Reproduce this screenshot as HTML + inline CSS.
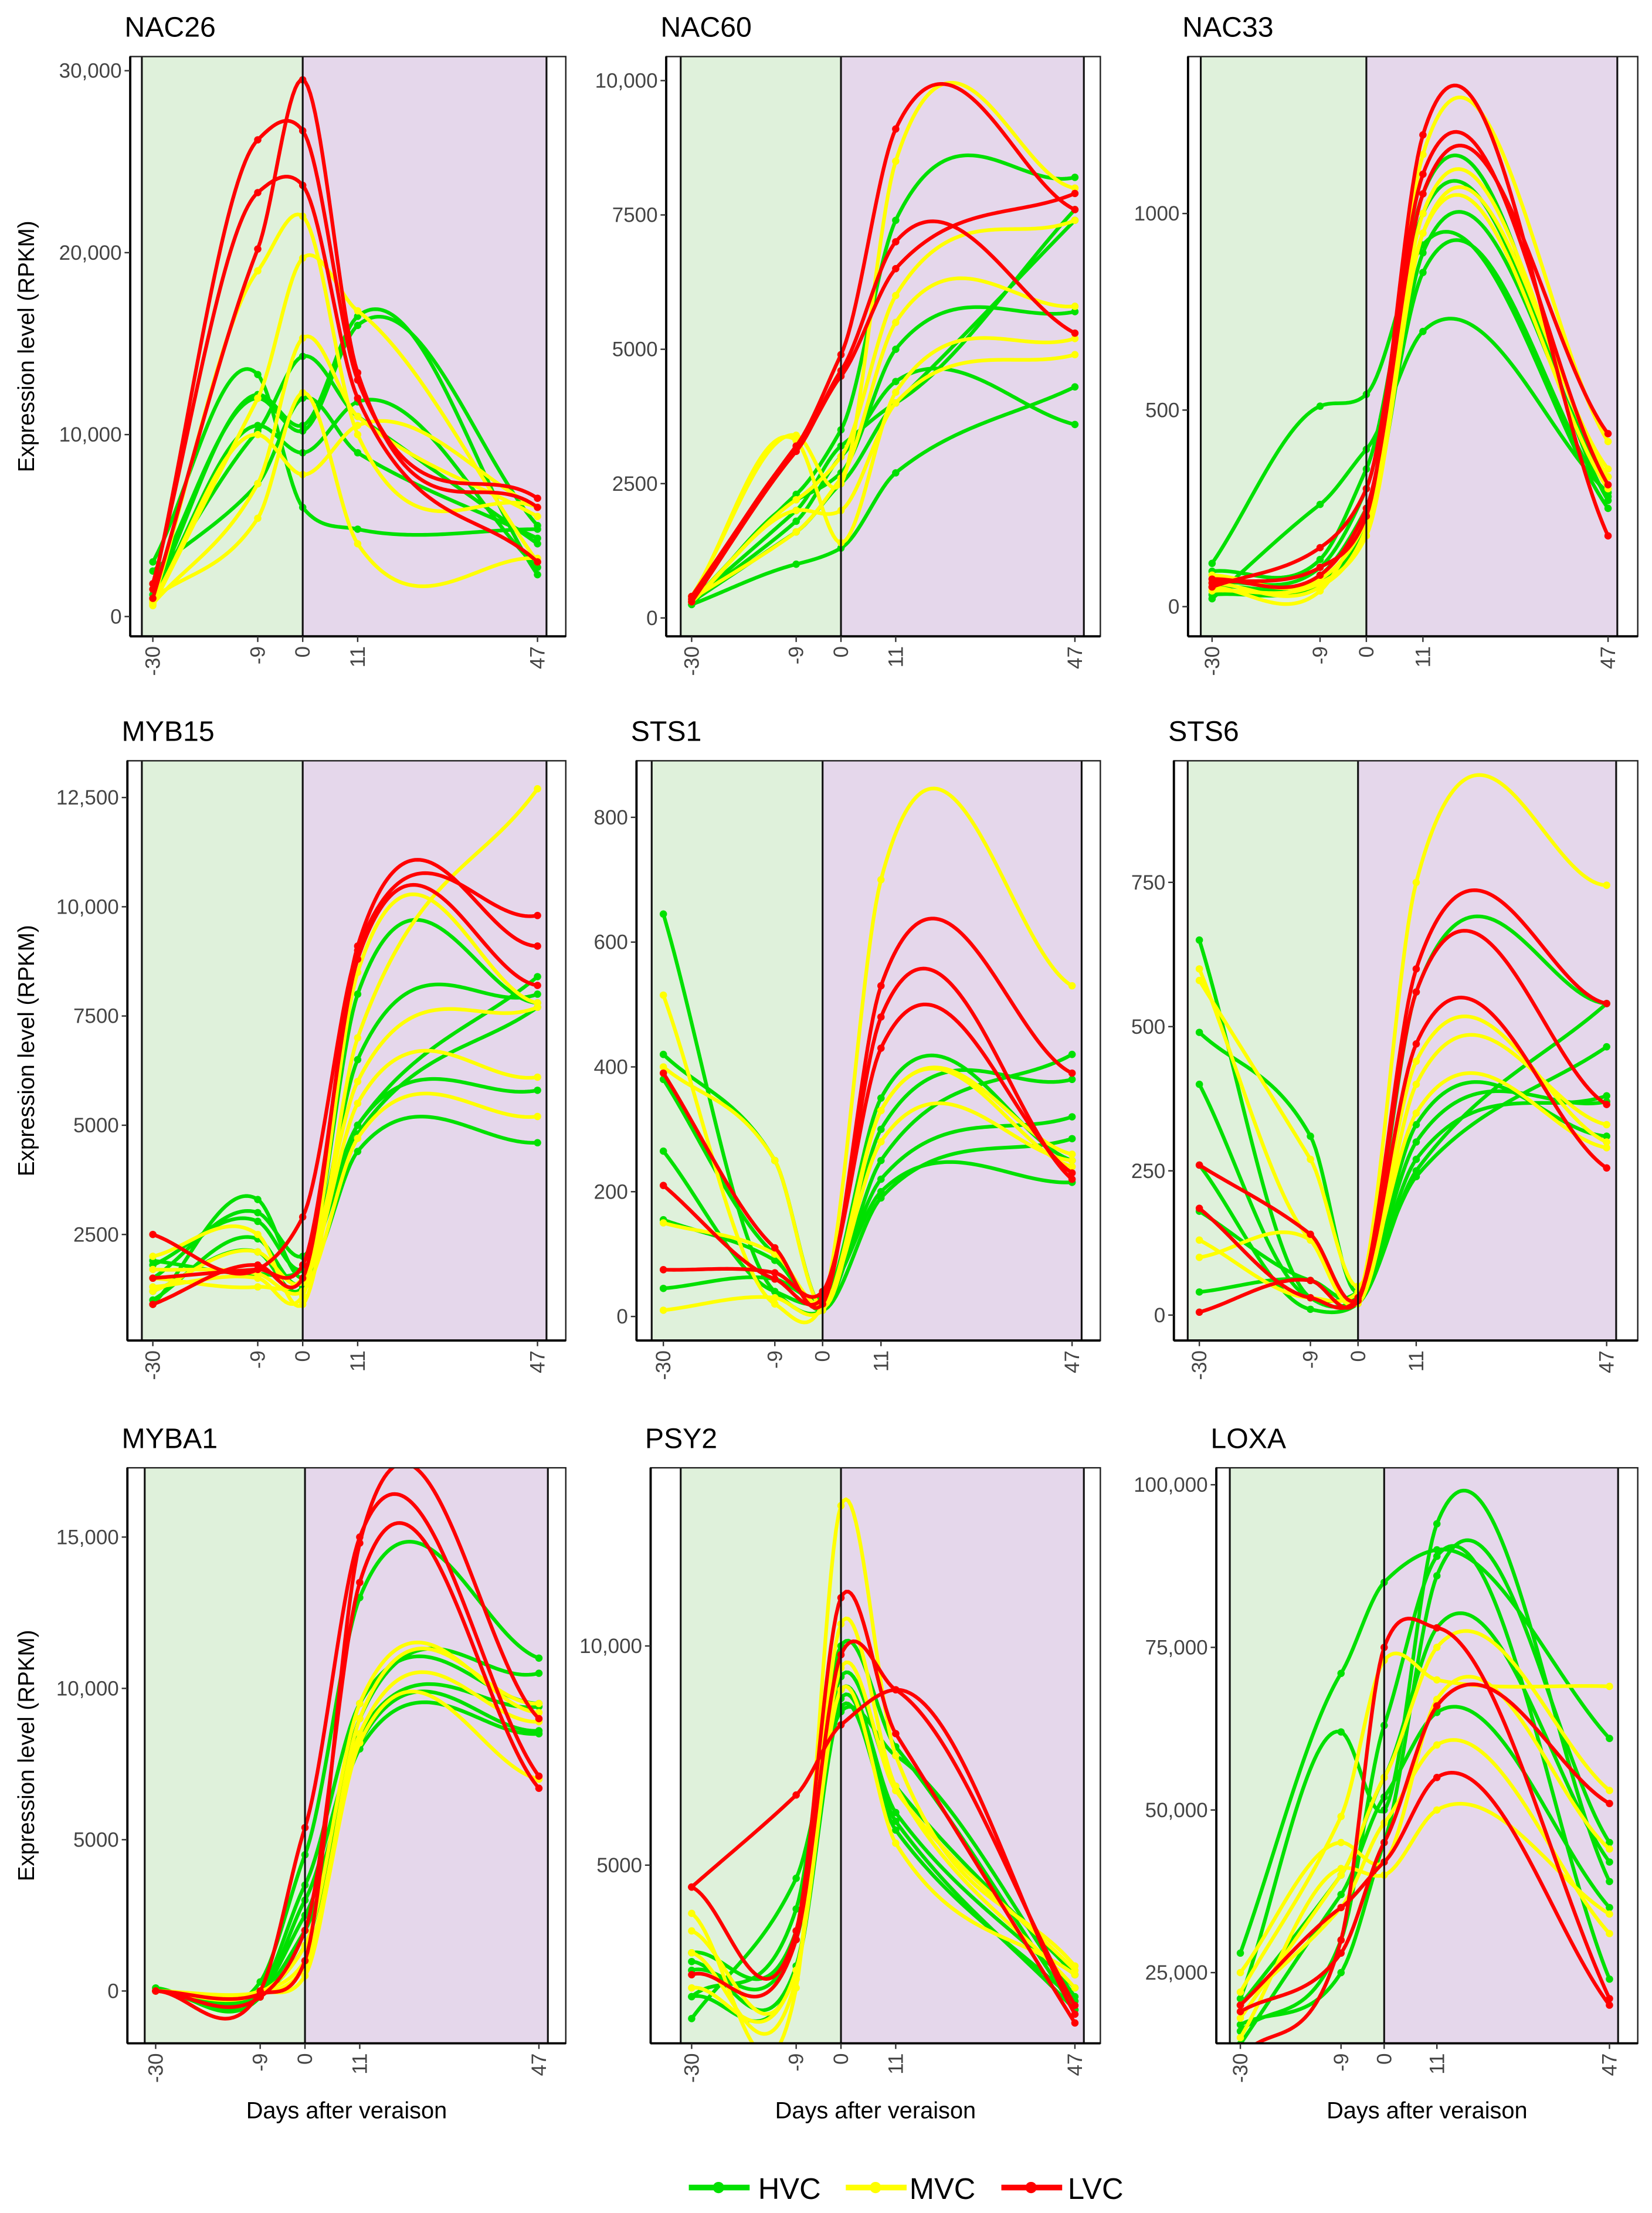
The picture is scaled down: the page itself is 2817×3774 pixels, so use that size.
<!DOCTYPE html>
<html><head><meta charset="utf-8"><style>
html,body{margin:0;padding:0;background:#fff;}
svg{display:block;font-family:"Liberation Sans",sans-serif;}
</style></head><body>
<svg id="fig" width="2817" height="3774" viewBox="0 0 1168 1565" xmlns="http://www.w3.org/2000/svg">
<rect x="0" y="0" width="1168" height="1565" fill="#fff"/>
<g id="panels"></g>
<g>
 <g><line x1="487" y1="1547" x2="530" y2="1547" stroke="#00e000" stroke-width="4"/><circle cx="508" cy="1547" r="4" fill="#00e000"/><text x="536" y="1555" font-size="21">HVC</text></g>
 <g><line x1="598" y1="1547" x2="641" y2="1547" stroke="#ffff00" stroke-width="4"/><circle cx="619" cy="1547" r="4" fill="#ffff00"/><text x="643" y="1555" font-size="21">MVC</text></g>
 <g><line x1="708" y1="1547" x2="751" y2="1547" stroke="#ff0000" stroke-width="4"/><circle cx="729" cy="1547" r="4" fill="#ff0000"/><text x="755" y="1555" font-size="21">LVC</text></g>
</g>
</svg>
<script>
const days = [-30, -9, 0, 11, 47];
const xTickLabels = ["-30", "-9", "0", "11", "47"];

// NAC26
const nac26Hvc = [[3000,13300,6000,4800,4800],[1200,12200,10500,16500,2300],[1500,10200,14300,11000,4000],[2500,7300,12000,9000,4300],[1000,10500,9000,11800,2700],[1800,12000,10200,16000,5000]];
const nac26Mvc = [[800,19000,22000,10000,6000],[600,12000,19700,16800,3000],[700,7300,15300,11000,5500],[1000,5400,12300,4000,3200],[900,10000,7800,10500,6000]];
const nac26Lvc = [[1500,26200,26700,13000,6500],[1800,23300,23700,12000,3000],[1000,20200,29500,13400,6000]];
const nac26Ticks = [0,10000,20000,30000];
const nac26TickLabels = ["0","10,000","20,000","30,000"];
// NAC60
const nac60Hvc = [[250,1000,1300,2700,4300],[300,2300,3500,7400,8200],[250,2200,2700,5000,5700],[300,1600,2500,4000,7400],[300,1800,3000,4400,3600],[300,2000,3200,4000,7600]];
const nac60Mvc = [[400,3400,2500,8500,8000],[300,2200,3000,6000,7400],[350,1600,2600,5500,5800],[300,2000,2000,4000,4900],[400,3300,1400,4200,5200]];
const nac60Lvc = [[400,3200,4900,9100,7600],[350,3150,4500,6500,7900],[300,3100,4600,7000,5300]];
const nac60Ticks = [0,2500,5000,7500,10000];
const nac60TickLabels = ["0","2500","5000","7500","10,000"];
// NAC33
const nac33Hvc = [[110,510,540,920,250],[20,260,400,700,290],[60,100,300,1050,270],[30,60,200,900,330],[90,120,350,1000,300],[50,80,250,850,280]];
const nac33Mvc = [[60,50,200,1150,420],[40,60,180,950,350],[80,70,220,1000,330],[50,40,250,950,300]];
const nac33Lvc = [[60,100,230,1200,180],[50,150,300,1100,310],[70,80,250,1050,440]];
const nac33Ticks = [0,500,1000];
const nac33TickLabels = ["0","500","1000"];
// MYB15
const myb15Hvc = [[900,3300,1500,4400,4600],[1800,2800,1700,5000,5800],[1200,2100,1300,8000,7800],[1500,3000,2000,5000,8400],[1000,2400,1400,6500,8000],[1900,1600,1700,4800,7700]];
const myb15Mvc = [[2000,2500,900,7000,12700],[1500,1300,1500,6000,7700],[1200,2100,1400,5500,6100],[1700,1600,1200,4700,5200],[1300,1500,1100,8500,7800]];
const myb15Lvc = [[2500,1700,2900,9000,9800],[900,1800,1500,9100,9100],[1500,1700,1800,8800,8200]];
const myb15Ticks = [2500,5000,7500,10000,12500];
const myb15TickLabels = ["2500","5000","7500","10,000","12,500"];
// STS1
const sts1Hvc = [[645,40,10,250,420],[420,250,15,300,380],[265,40,25,220,320],[155,90,10,190,285],[45,60,30,200,215],[380,100,20,350,250]];
const sts1Mvc = [[515,20,20,700,530],[400,250,15,330,260],[10,30,10,330,240],[150,100,20,280,250]];
const sts1Lvc = [[390,110,20,530,390],[210,60,30,480,220],[75,70,40,430,230]];
const sts1Ticks = [0,200,400,600,800];
const sts1TickLabels = ["0","200","400","600","800"];
// STS6
const sts6Hvc = [[650,30,30,300,370],[490,310,40,560,540],[400,30,40,240,465],[180,60,30,270,380],[40,60,30,330,310],[260,10,20,250,540]];
const sts6Mvc = [[600,130,30,750,745],[580,270,50,440,300],[100,130,20,400,330],[130,30,40,350,290]];
const sts6Lvc = [[260,140,30,600,540],[185,30,30,470,255],[5,60,25,560,365]];
const sts6Ticks = [0,250,500,750];
const sts6TickLabels = ["0","250","500","750"];
// MYBA1
const myba1Hvc = [[0,-50,2500,8000,8500],[0,300,4500,13000,11000],[0,-100,1500,9000,10500],[0,0,3500,9500,9500],[100,-200,3000,8500,9400],[0,-100,2000,8200,8600]];
const myba1Mvc = [[0,-50,500,9000,9500],[0,-100,800,8200,7000],[0,-50,1500,9500,9200],[0,0,1000,8500,8900]];
const myba1Lvc = [[0,0,5400,15000,7100],[0,-200,2000,13500,6700],[0,-100,1000,14800,9000]];
const myba1Ticks = [0,5000,10000,15000];
const myba1TickLabels = ["0","5000","10,000","15,000"];
// PSY2
const psy2Hvc = [[1500,4700,8500,7500,2000],[2000,4000,10000,7700,1700],[2600,3300,9000,6200,2200],[2800,2700,8800,6000,1700],[3000,3500,9300,6800,2500],[2000,2600,8600,5800,1900]];
const psy2Mvc = [[3900,2200,13200,7500,2700],[3500,2600,9500,6700,2600],[3000,2400,10500,6800,2200],[2200,2600,9000,5500,2500]];
const psy2Lvc = [[4500,6600,8200,9000,1600],[4500,3500,11100,8000,1400],[2500,3300,9800,9000,1800]];
const psy2Ticks = [5000,10000];
const psy2TickLabels = ["5000","10,000"];
// LOXA
const loxaHvc = [[28000,71000,85000,90000,61000],[21000,62000,50000,94000,39000],[16000,30000,63000,89000,24000],[17000,25000,45000,86000,45000],[20000,40000,55000,78000,42000],[14000,37000,52000,65000,35000]];
const loxaMvc = [[22000,49000,73000,70000,69000],[18000,40000,55000,75000,53000],[15000,41000,40000,50000,34000],[20000,35000,48000,60000,31000],[25000,45000,42000,67000,44000]];
const loxaLvc = [[12000,30000,75000,78000,21000],[20000,35000,42000,55000,20000],[19000,28000,45000,66000,51000]];
const loxaTicks = [25000,50000,75000,100000];
const loxaTickLabels = ["25,000","50,000","75,000","100,000"];

const NS = "http://www.w3.org/2000/svg";
const COL = {hvc:"#00e000", mvc:"#ffff00", lvc:"#ff0000"};

const panels = [
 {name:"NAC26",key:"nac26",h:nac26Hvc,m:nac26Mvc,l:nac26Lvc,t:nac26Ticks,tl:nac26TickLabels,box:[92,400,40,450],xp:[108,380],yr:[0,436,30000,50],ylab:true,xlab:false},
 {name:"NAC60",key:"nac60",h:nac60Hvc,m:nac60Mvc,l:nac60Lvc,t:nac60Ticks,tl:nac60TickLabels,box:[471,778,40,450],xp:[489,760],yr:[0,437,10000,57]},
 {name:"NAC33",key:"nac33",h:nac33Hvc,m:nac33Mvc,l:nac33Lvc,t:nac33Ticks,tl:nac33TickLabels,box:[840,1158,40,450],xp:[857,1137],yr:[0,429,1000,151]},
 {name:"MYB15",key:"myb15",h:myb15Hvc,m:myb15Mvc,l:myb15Lvc,t:myb15Ticks,tl:myb15TickLabels,box:[90,400,538,948],xp:[108,380],yr:[2500,873,12500,564],ylab:true},
 {name:"STS1",key:"sts1",h:sts1Hvc,m:sts1Mvc,l:sts1Lvc,t:sts1Ticks,tl:sts1TickLabels,box:[450,778,538,948],xp:[469,758],yr:[0,931,800,578]},
 {name:"STS6",key:"sts6",h:sts6Hvc,m:sts6Mvc,l:sts6Lvc,t:sts6Ticks,tl:sts6TickLabels,box:[830,1158,538,948],xp:[848,1136],yr:[0,930,750,624]},
 {name:"MYBA1",key:"myba1",h:myba1Hvc,m:myba1Mvc,l:myba1Lvc,t:myba1Ticks,tl:myba1TickLabels,box:[90,400,1038,1445],xp:[110,381],yr:[0,1408,15000,1087],ylab:true,xlab:true},
 {name:"PSY2",key:"psy2",h:psy2Hvc,m:psy2Mvc,l:psy2Lvc,t:psy2Ticks,tl:psy2TickLabels,box:[460,778,1038,1445],xp:[489,760],yr:[5000,1319,10000,1164],xlab:true},
 {name:"LOXA",key:"loxa",h:loxaHvc,m:loxaMvc,l:loxaLvc,t:loxaTicks,tl:loxaTickLabels,box:[860,1158,1038,1445],xp:[877,1138],yr:[25000,1395,100000,1050],xlab:true}
];

const TENSION = 0.7;
function spline(xs, ys){
  const n = xs.length, h=[], d=[], m=[];
  for(let i=0;i<n-1;i++){ h.push(xs[i+1]-xs[i]); d.push((ys[i+1]-ys[i])/h[i]); }
  m[0]=d[0]; m[n-1]=d[n-2];
  for(let i=1;i<n-1;i++) m[i]=TENSION*(h[i]*d[i-1]+h[i-1]*d[i])/(h[i-1]+h[i]);
  return function(x){
    let i=0; while(i<n-2 && x>xs[i+1]) i++;
    const t=(x-xs[i])/h[i], t2=t*t, t3=t2*t;
    return (2*t3-3*t2+1)*ys[i]+(t3-2*t2+t)*h[i]*m[i]+(-2*t3+3*t2)*ys[i+1]+(t3-t2)*h[i]*m[i+1];
  };
}

function mk(tag, attrs, parent){ const e=document.createElementNS(NS,tag); for(const k in attrs) e.setAttribute(k,attrs[k]); if(parent) parent.appendChild(e); return e; }

const root = document.getElementById("panels");
panels.forEach((p, pi)=>{
  const [x0,x1,y0,y1] = p.box;
  const sx = d => p.xp[0] + (d+30)*(p.xp[1]-p.xp[0])/77;
  const sy = v => p.yr[1] + (v-p.yr[0])*(p.yr[3]-p.yr[1])/(p.yr[2]-p.yr[0]);
  const g = mk("g", {}, root);
  
  
  const clip = mk("clipPath", {id:"clip"+pi}, g);
  mk("rect", {x:x0, y:y0, width:x1-x0, height:y1-y0}, clip);
  const title = mk("text", {x:x0-4, y:y0-14, "font-size":20}, g);
  title.textContent = p.name;
  
  
  const gl = sx(-32.2), gr = sx(48.8), z = sx(0);
  const pre = mk("rect", {x:gl, y:y0, width:z-gl, height:y1-y0, fill:"#dff1db"}, g);
  
  
  const post = mk("rect", {x:z, y:y0, width:gr-z, height:y1-y0, fill:"#e5d7eb"}, g);
  
  
  const lg = mk("g", {"clip-path":"url(#clip"+pi+")"}, g);
  
  
  const groups = [["hvc",p.h],["mvc",p.m],["lvc",p.l]];
  groups.forEach(([gname, arr])=>{
    arr.forEach((vals, si)=>{
      const f = spline(days, vals);
      let dstr = "";
      for(let k=0;k<=154;k++){ const d=-30+77*k/154; dstr += (k?"L":"M")+sx(d).toFixed(2)+","+sy(f(d)).toFixed(2); }
      const path = mk("path", {d:dstr, fill:"none", stroke:COL[gname], "stroke-width":2.6, "stroke-linejoin":"round"}, lg);
      
      
      vals.forEach((v,k)=>{
        const c = mk("circle", {cx:sx(days[k]), cy:sy(v), r:2.6, fill:COL[gname]}, lg);
        
        
      });
    });
  });
  [gl, z, gr].forEach(x=>{ mk("line", {x1:x, y1:y0, x2:x, y2:y1, stroke:"#111", "stroke-width":1.3}, g); });
  const frame = mk("rect", {x:x0, y:y0, width:x1-x0, height:y1-y0, fill:"none", stroke:"#222", "stroke-width":1}, g);
  
  
  mk("line", {x1:x0, y1:y0, x2:x0, y2:y1, stroke:"#000", "stroke-width":1.6}, g);
  mk("line", {x1:x0, y1:y1, x2:x1, y2:y1, stroke:"#000", "stroke-width":1.6}, g);
  p.t.forEach((v,k)=>{
    const y = sy(v);
    mk("line", {x1:x0-4, y1:y, x2:x0, y2:y, stroke:"#333", "stroke-width":1}, g);
    const t = mk("text", {x:x0-6, y:y+5, "font-size":14.5, "text-anchor":"end", fill:"#444"}, g);
    t.textContent = p.tl[k];
    
    
  });
  days.forEach((d,k)=>{
    const x = sx(d);
    mk("line", {x1:x, y1:y1, x2:x, y2:y1+4, stroke:"#333", "stroke-width":1}, g);
    const t = mk("text", {x:x+5, y:y1+7, "font-size":14.5, "text-anchor":"end", fill:"#444", transform:"rotate(-90 "+(x+5)+" "+(y1+7)+")"}, g);
    t.textContent = xTickLabels[k];
    
    
  });
  if(p.ylab){
    const cy = (y0+y1)/2, cx = 24;
    const t = mk("text", {x:cx, y:cy, "font-size":16, "text-anchor":"middle", transform:"rotate(-90 "+cx+" "+cy+")"}, g);
    t.textContent = "Expression level (RPKM)";
    
    
  }
  if(p.xlab){
    const t = mk("text", {x:(x0+x1)/2, y:1498, "font-size":16.5, "text-anchor":"middle"}, g);
    t.textContent = "Days after veraison";
    
    
  }
});
</script>
</body></html>
